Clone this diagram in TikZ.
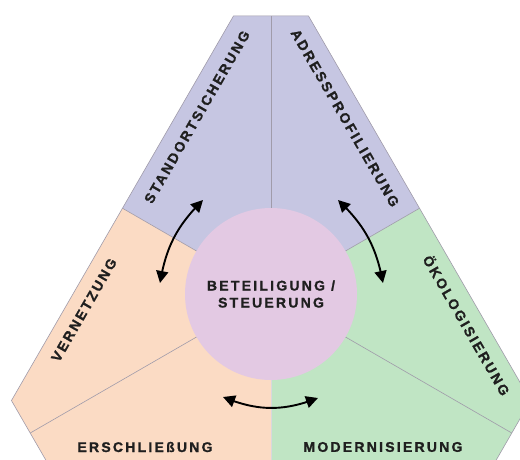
\documentclass[tikz,border=0pt]{standalone}
\usepackage{fontspec}
\setmainfont{Liberation Sans}
\newfontfamily\labfont[LetterSpace=16,BoldFeatures={FakeBold=1.2}]{Liberation Sans}
\usetikzlibrary{calc,arrows.meta,bending}
\definecolor{purp}{RGB}{198,198,226}
\definecolor{peach}{RGB}{251,219,196}
\definecolor{mint}{RGB}{192,229,196}
\definecolor{circ}{RGB}{227,201,227}
\definecolor{edgecol}{RGB}{160,155,170}
\begin{document}
\begin{tikzpicture}[x=1pt,y=1pt,
 lab/.style={font=\labfont\bfseries\fontsize{14}{17}\selectfont, text=black!88, inner sep=0pt},
 divider/.style={draw=edgecol, line width=0.6pt},
 twoway/.style={line width=1.9pt, {Triangle[length=12pt,width=12pt]}-{Triangle[length=12pt,width=12pt]}}]
\useasboundingbox (0,0) rectangle (520,459);
\clip (0,0) rectangle (520,459);
\coordinate (O) at (271,165);
\coordinate (A) at ($(O)+(90:343)$);
\coordinate (B) at ($(O)+(210:343)$);
\coordinate (C) at ($(O)+(330:343)$);
\coordinate (T1) at ($(A)!75pt!(B)$);
\coordinate (T2) at ($(A)!75pt!(C)$);
\coordinate (L1) at ($(B)!75pt!(A)$);
\coordinate (L2) at ($(B)!75pt!(C)$);
\coordinate (R1) at ($(C)!75pt!(A)$);
\coordinate (R2) at ($(C)!75pt!(B)$);
\coordinate (M150) at ($(O)+(150:171.5)$);
\coordinate (M30) at ($(O)+(30:171.5)$);
\coordinate (M270) at ($(O)+(270:171.5)$);
\fill[purp] (O) -- (M150) -- (T1) -- (T2) -- (M30) -- cycle;
\fill[peach] (O) -- (M150) -- (L1) -- (L2) -- (M270) -- cycle;
\fill[mint] (O) -- (M270) -- (R2) -- (R1) -- (M30) -- cycle;
\draw[divider] (O) -- ($(T1)!0.5!(T2)$);
\draw[divider] (O) -- ($(L1)!0.5!(L2)$);
\draw[divider] (O) -- ($(R1)!0.5!(R2)$);
\draw[divider] (O) -- (M150);
\draw[divider] (O) -- (M30);
\draw[divider, draw=edgecol!40] (O) -- (M270);
\draw[edgecol, line width=0.6pt] (T1) -- (T2) -- (R1) -- (R2) -- (L2) -- (L1) -- cycle;
\node[circle, fill=circ, minimum size=172pt, inner sep=0pt, align=center, lab] (core) at (O) {BETEILIGUNG /\\STEUERUNG};
\node[lab, rotate=60] (stand) at (197,342) {STANDORTSICHERUNG};
\node[lab, rotate=-60] (adress) at (345,341) {ADRESSPROFILIERUNG};
\node[lab, rotate=60] (vern) at (84,149) {VERNETZUNG};
\node[lab, rotate=-60] (oeko) at (467,134) {ÖKOLOGISIERUNG};
\node[lab] (ersch) at (145,12) {ERSCHLIEßUNG};
\node[lab] (mod) at (383,12) {MODERNISIERUNG};
\coordinate (ul1) at (160,176); \coordinate (ul2) at (203,259);
\draw[twoway] (ul1) to[bend left=18] (ul2);
\coordinate (ur1) at (383,176); \coordinate (ur2) at (338,259);
\draw[twoway] (ur1) to[bend right=18] (ur2);
\coordinate (b1) at (223,62); \coordinate (b2) at (318,61);
\draw[twoway] (b1) to[bend right=22] (b2);
\end{tikzpicture}
\end{document}
